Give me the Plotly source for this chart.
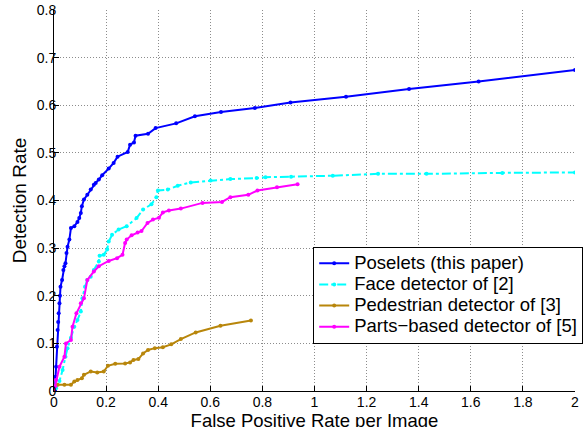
import plotly.graph_objects as go

blue_x = [0, 0.004, 0.006, 0.008, 0.011, 0.014, 0.016, 0.018, 0.021, 0.023, 0.025, 0.031, 0.036, 0.040,
          0.044, 0.048, 0.052, 0.059, 0.065, 0.078, 0.090, 0.097, 0.103, 0.107, 0.115, 0.128, 0.141,
          0.153, 0.160, 0.172, 0.185, 0.210, 0.229, 0.244, 0.283, 0.292, 0.307, 0.313, 0.361, 0.390,
          0.469, 0.541, 0.641, 0.771, 0.908, 1.121, 1.363, 1.630, 2.0]
blue_y = [0, 0.002, 0.030, 0.051, 0.093, 0.128, 0.145, 0.163, 0.184, 0.200, 0.219, 0.233, 0.254, 0.262,
          0.268, 0.290, 0.303, 0.318, 0.342, 0.346, 0.355, 0.363, 0.374, 0.388, 0.402, 0.412, 0.423,
          0.433, 0.437, 0.444, 0.453, 0.467, 0.479, 0.492, 0.502, 0.517, 0.522, 0.536, 0.540, 0.552,
          0.562, 0.577, 0.586, 0.594, 0.606, 0.618, 0.634, 0.650, 0.674]

cyan_x = [0.0, 0.008, 0.021, 0.033, 0.044, 0.052, 0.065, 0.078, 0.090, 0.103, 0.109, 0.119, 0.128,
          0.141, 0.153, 0.172, 0.175, 0.191, 0.204, 0.210, 0.223, 0.248, 0.279, 0.317, 0.342, 0.374,
          0.393, 0.399, 0.437, 0.475, 0.525, 0.601, 0.677, 0.778, 0.812, 0.910, 1.070, 1.244, 1.430,
          1.721, 2.0]
cyan_y = [0.0, 0.006, 0.021, 0.044, 0.072, 0.090, 0.112, 0.135, 0.149, 0.167, 0.195, 0.219, 0.233,
          0.240, 0.254, 0.272, 0.284, 0.286, 0.297, 0.314, 0.328, 0.339, 0.346, 0.363, 0.381, 0.392,
          0.407, 0.421, 0.423, 0.431, 0.438, 0.442, 0.445, 0.447, 0.449, 0.450, 0.452, 0.456, 0.456,
          0.458, 0.459]

brown_x = [0.0, 0.002, 0.014, 0.040, 0.065, 0.078, 0.090, 0.107, 0.115, 0.141, 0.166, 0.191, 0.207,
           0.235, 0.273, 0.292, 0.305, 0.324, 0.342, 0.361, 0.387, 0.418, 0.450, 0.487, 0.544, 0.639,
           0.756]
brown_y = [0.0, 0.009, 0.013, 0.013, 0.013, 0.020, 0.023, 0.027, 0.034, 0.041, 0.039, 0.041, 0.053,
           0.057, 0.058, 0.060, 0.065, 0.067, 0.079, 0.086, 0.090, 0.092, 0.098, 0.109, 0.123, 0.137,
           0.148]

mag_x = [0.0, 0.004, 0.008, 0.021, 0.040, 0.046, 0.065, 0.071, 0.086, 0.103, 0.115, 0.128, 0.153,
         0.172, 0.210, 0.242, 0.263, 0.273, 0.279, 0.298, 0.321, 0.336, 0.359, 0.380, 0.403, 0.418,
         0.441, 0.487, 0.570, 0.645, 0.677, 0.746, 0.781, 0.856, 0.935]
mag_y = [0.0, 0.010, 0.023, 0.051, 0.072, 0.100, 0.107, 0.135, 0.163, 0.184, 0.195, 0.233, 0.251,
         0.262, 0.273, 0.279, 0.286, 0.311, 0.318, 0.327, 0.333, 0.336, 0.353, 0.360, 0.364, 0.375,
         0.379, 0.383, 0.395, 0.397, 0.407, 0.412, 0.421, 0.428, 0.434]

x_ticks = [0, 0.2, 0.4, 0.6, 0.8, 1, 1.2, 1.4, 1.6, 1.8, 2]
x_tick_labels = ["0", "0.2", "0.4", "0.6", "0.8", "1", "1.2", "1.4", "1.6", "1.8", "2"]
y_ticks = [0, 0.1, 0.2, 0.3, 0.4, 0.5, 0.6, 0.7, 0.8]
y_tick_labels = ["0", "0.1", "0.2", "0.3", "0.4", "0.5", "0.6", "0.7", "0.8"]

series = [
    ("Poselets (this paper)", blue_x, blue_y, "#0000FF", "solid"),
    ("Face detector of [2]", cyan_x, cyan_y, "#00FFFF", "dashdot"),
    ("Pedestrian detector of [3]", brown_x, brown_y, "#B8860B", "solid"),
    ("Parts−based detector of [5]", mag_x, mag_y, "#FF00FF", "solid"),
]

fig = go.Figure()
for name, xs, ys, col, dash in series:
    fig.add_trace(go.Scatter(
        x=xs, y=ys, name="<span style='font-size:18.5px'>" + name + "</span>",
        mode="lines+markers",
        line=dict(color=col, width=2, dash=dash),
        marker=dict(color=col, size=4),
        cliponaxis=True,
    ))

FONT = "Liberation Sans, Arial, Helvetica, sans-serif"
GRID = dict(showgrid=True, gridcolor="#8c8c8c", griddash="1px,2px", gridwidth=1)
# figure is a little taller than the window so the x title sits low, cut at the bottom like the reference
fig.update_layout(
    width=584, height=440,
    margin=dict(l=54, r=1, t=10, b=49),
    paper_bgcolor="white", plot_bgcolor="white",
    font=dict(family=FONT, color="black", size=14),
    showlegend=True,
    legend=dict(
        x=0.4975, y=0.379 * 381 / 381, xanchor="left", yanchor="top",
        bgcolor="white", bordercolor="black", borderwidth=1,
        font=dict(size=14, family=FONT), tracegroupgap=0,
    ),
    xaxis=dict(
        range=[0, 2], tickvals=x_ticks, ticktext=x_tick_labels,
        showline=True, linecolor="black", linewidth=1,
        ticks="inside", ticklen=5, tickcolor="black",
        ticklabelstandoff=-2, ticklabeloverflow="allow",
        zeroline=False, **GRID,
        title=dict(text="False Positive Rate per Image", font=dict(size=18.5), standoff=0),
        automargin=False,
    ),
    yaxis=dict(
        range=[0, 0.8], tickvals=y_ticks, ticktext=y_tick_labels,
        showline=True, linecolor="black", linewidth=1,
        ticks="inside", ticklen=5, tickcolor="black",
        ticklabelstandoff=-6, ticklabeloverflow="allow",
        zeroline=False, **GRID,
        title=dict(text="Detection Rate", font=dict(size=19), standoff=5),
        automargin=False,
    ),
)

fig.write_html(
    "out.html",
    config={"displayModeBar": False},
    post_script="document.body.style.margin='0';document.body.style.overflow='hidden';",
)
